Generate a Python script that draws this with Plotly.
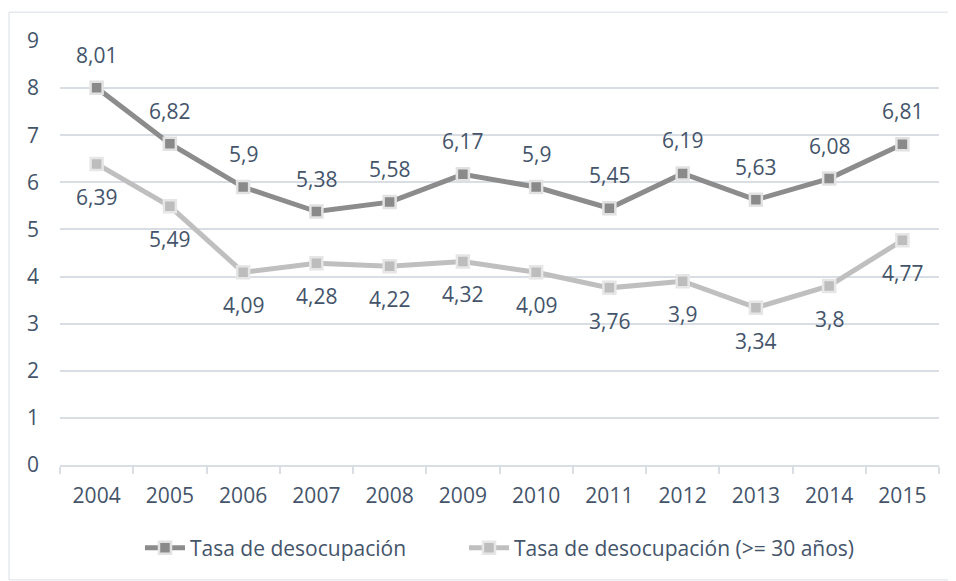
import plotly.graph_objects as go

years = ["2004", "2005", "2006", "2007", "2008", "2009", "2010", "2011", "2012", "2013", "2014", "2015"]
tasa_total = [8.01, 6.82, 5.90, 5.38, 5.58, 6.17, 5.90, 5.45, 6.19, 5.63, 6.08, 6.81]
tasa_30 = [6.39, 5.49, 4.09, 4.28, 4.22, 4.32, 4.09, 3.76, 3.90, 3.34, 3.80, 4.77]
y_ticks = [0, 1, 2, 3, 4, 5, 6, 7, 8, 9]

TEXT = "#44546A"
GRID = "#D9DEE4"
FONT = "Open Sans"
FS = 21


def fmt(v):
    # comma decimal, no trailing zeros
    return f"{v:g}".replace(".", ",")


fig = go.Figure()
fig.add_trace(go.Scatter(
    x=years, y=tasa_total, name="Tasa de desocupación",
    mode="lines+markers", legend="legend",
    line=dict(color="#8C8C8C", width=5),
    marker=dict(symbol="square", size=12, color="#8A8A8A", line=dict(color="#E2E2E2", width=2.5)),
))
fig.add_trace(go.Scatter(
    x=years, y=tasa_30, name="Tasa de desocupación (>= 30 años)",
    mode="lines+markers", legend="legend2",
    line=dict(color="#BFBFBF", width=5),
    marker=dict(symbol="square", size=12, color="#BDBDBD", line=dict(color="#E6E6E6", width=2.5)),
))

# data labels: index positions on the category axis
for i, v in enumerate(tasa_total):
    fig.add_annotation(x=i, y=v, text=fmt(v), showarrow=False, yshift=33,
                       font=dict(family=FONT, size=FS, color=TEXT))
for i, v in enumerate(tasa_30):
    fig.add_annotation(x=i, y=v, text=fmt(v), showarrow=False, yshift=-33,
                       font=dict(family=FONT, size=FS, color=TEXT))

# outer chart border (right edge falls outside the picture)
fig.add_shape(type="rect", xref="paper", yref="paper",
              x0=-0.058, x1=1.06, y0=-0.271, y1=1.068,
              line=dict(color="#DADFE5", width=1), layer="below")

leg = dict(orientation="h", xanchor="left", y=-0.196, yanchor="middle",
           font=dict(family=FONT, size=FS, color=TEXT), itemwidth=40,
           bgcolor="rgba(0,0,0,0)")

fig.update_layout(
    width=948, height=573,
    margin=dict(l=52, r=17, t=33, b=116),
    paper_bgcolor="white", plot_bgcolor="white",
    font=dict(family=FONT, size=FS, color=TEXT),
    showlegend=True,
    legend=dict(leg, x=0.091),
    legend2=dict(leg, x=0.4596),
)
fig.update_xaxes(
    type="category", range=[-0.5, len(years) - 0.5],
    showgrid=False, showline=True, linecolor=GRID, linewidth=1.5,
    ticks="outside", tickson="boundaries", ticklen=7, tickcolor=GRID, tickwidth=1.5,
    tickangle=0, ticklabelstandoff=11, tickfont=dict(family=FONT, size=FS, color=TEXT),
)
fig.update_yaxes(
    range=[0, 9], tickvals=y_ticks, showgrid=True, gridcolor=GRID, gridwidth=1.5,
    zeroline=False, showline=False, ticks="", ticklabelstandoff=20,
    tickfont=dict(family=FONT, size=FS, color=TEXT),
)

fig.write_html("out.html")
